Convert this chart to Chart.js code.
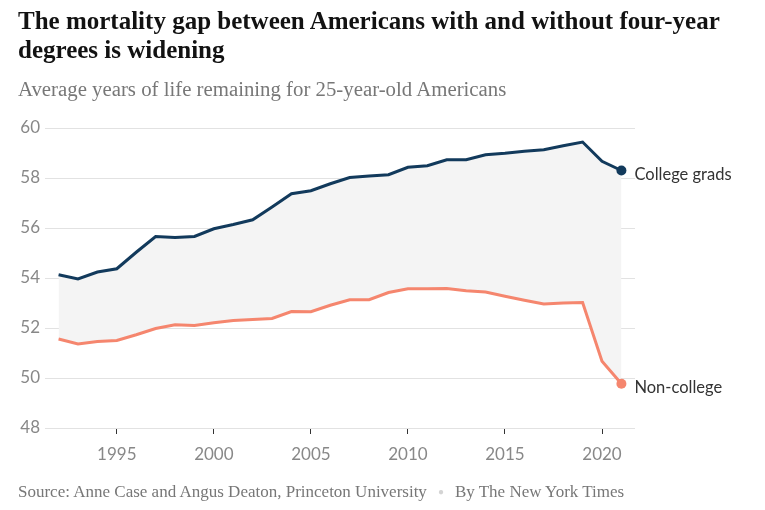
<!DOCTYPE html>
<html>
<head>
<meta charset="utf-8">
<script src="https://cdn.jsdelivr.net/npm/chart.js@4.4.1/dist/chart.umd.min.js"></script>
<style>
  body { margin: 0; background: #fff; width: 765px; height: 510px; overflow: hidden; position: relative; }
  #chart { position: absolute; left: 0; top: 0; }
  .txt { position: absolute; left: 18px; white-space: nowrap; }
  #title { top: 6px; font: bold 25px 'Liberation Serif', serif; line-height: 29px; color: #121212; }
  #subtitle { top: 77px; font: 20.8px 'Liberation Serif', serif; color: #777; }
  #source { top: 482px; font: 17px 'Liberation Serif', serif; color: #777; }
  #source .dot { color: #d4d4d4; margin: 0 11px; font-size: 10px; vertical-align: 2px; }
</style>
</head>
<body>
<canvas id="chart" width="765" height="510"></canvas>
<div class="txt" id="title">The mortality gap between Americans with and without four-year<br>degrees is widening</div>
<div class="txt" id="subtitle">Average years of life remaining for 25-year-old Americans</div>
<div class="txt" id="source">Source: Anne Case and Angus Deaton, Princeton University<span class="dot">●</span>By The New York Times</div>
<script>
// values
var years = [1992, 1993, 1994, 1995, 1996, 1997, 1998, 1999, 2000, 2001, 2002, 2003, 2004, 2005, 2006,
             2007, 2008, 2009, 2010, 2011, 2012, 2013, 2014, 2015, 2016, 2017, 2018, 2019, 2020, 2021];
var collegeGrads = [54.13, 53.96, 54.24, 54.37, 55.03, 55.66, 55.62, 55.66, 55.97, 56.14, 56.33, 56.84, 57.37, 57.49, 57.77,
                    58.02, 58.08, 58.13, 58.43, 58.49, 58.73, 58.73, 58.93, 58.99, 59.07, 59.13, 59.29, 59.44, 58.67, 58.30];
var nonCollege = [51.56, 51.36, 51.46, 51.50, 51.73, 51.98, 52.13, 52.10, 52.21, 52.30, 52.34, 52.38, 52.66, 52.65, 52.91,
                  53.13, 53.13, 53.42, 53.57, 53.57, 53.58, 53.49, 53.44, 53.27, 53.11, 52.96, 53.00, 53.02, 50.67, 49.77];
var seriesNames = ['College grads', 'Non-college'];
var xTicks = [1995, 2000, 2005, 2010, 2015, 2020];
var yTicks = [48, 50, 52, 54, 56, 58, 60];

function toPoints(vals) {
    return vals.map(function (v, i) { return { x: years[i], y: v }; });
}

function lastOnly(ctx) {
    return ctx.dataIndex === years.length - 1 ? 5 : 0;
}

const endLabels = {
    id: 'endLabels',
    afterDatasetsDraw(chart) {
        const ctx = chart.ctx;
        ctx.save();
        ctx.font = '16.5px Lato, sans-serif';
        ctx.fillStyle = '#333';
        ctx.textBaseline = 'middle';
        chart.data.datasets.forEach(function (ds, i) {
            const meta = chart.getDatasetMeta(i);
            const pt = meta.data[meta.data.length - 1];
            ctx.fillText(ds.label, pt.x + 13, pt.y + 4);
        });
        ctx.restore();
    }
};

Chart.defaults.font.family = 'Lato, sans-serif';

new Chart(document.getElementById('chart'), {
    type: 'line',
    data: {
        datasets: [{
            label: seriesNames[0],
            data: toPoints(collegeGrads),
            borderColor: '#123a5c',
            backgroundColor: '#f4f4f4',
            pointBackgroundColor: '#123a5c',
            borderWidth: 3,
            pointRadius: lastOnly,
            pointBorderWidth: 0,
            fill: '+1',
            tension: 0
        }, {
            label: seriesNames[1],
            data: toPoints(nonCollege),
            borderColor: '#f5866e',
            backgroundColor: '#f5866e',
            pointBackgroundColor: '#f5866e',
            borderWidth: 3,
            pointRadius: lastOnly,
            pointBorderWidth: 0,
            fill: false,
            tension: 0
        }]
    },
    options: {
        responsive: false,
        animation: false,
        layout: { padding: { top: 128, right: 130, left: 0, bottom: 0 } },
        plugins: {
            legend: { display: false },
            tooltip: { enabled: false },
            filler: { drawTime: 'beforeDatasetsDraw' }
        },
        scales: {
            x: {
                type: 'linear',
                min: 1991.3,
                max: 2021.7,
                afterBuildTicks: function (scale) {
                    scale.ticks = xTicks.map(function (v) { return { value: v }; });
                },
                afterFit: function (scale) { scale.height = 82; },
                border: { display: false },
                grid: { drawOnChartArea: false, drawTicks: true, tickLength: 6, color: '#333' },
                ticks: {
                    color: '#888',
                    font: { size: 17 },
                    padding: 10,
                    maxRotation: 0,
                    callback: function (v) { return String(v); }
                }
            },
            y: {
                min: 48,
                max: 60,
                afterBuildTicks: function (scale) {
                    scale.ticks = yTicks.map(function (v) { return { value: v }; });
                },
                afterFit: function (scale) { scale.width = 45; },
                border: { display: false },
                grid: { drawTicks: false, color: '#e2e2e2' },
                ticks: { color: '#888', font: { size: 17 }, padding: 5 }
            }
        }
    },
    plugins: [endLabels]
});
</script>
</body>
</html>
